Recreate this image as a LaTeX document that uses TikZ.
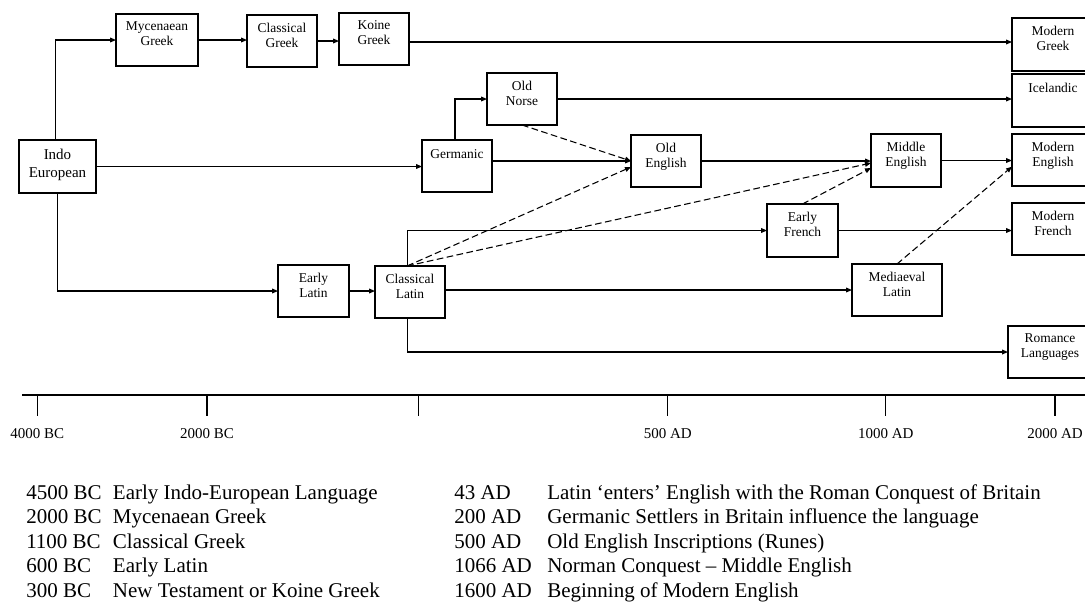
\documentclass[tikz,border=0pt]{standalone}
\usepackage{fontspec}
\setmainfont{Liberation Serif}
\usetikzlibrary{arrows.meta,calc}

\tikzset{
  box/.style={draw, line width=0.9pt, inner sep=0pt, outer sep=0pt},
  boxtext/.style={inner sep=0pt, align=center, font=\fontsize{10.1}{11.25}\selectfont, execute at begin node=\strut},
  bigtext/.style={boxtext, font=\fontsize{11.25}{13}\selectfont},
  link/.style={line width=0.8pt, -{Triangle[length=4.5pt,width=3.6pt]}},
  borrow/.style={link, dash pattern=on 5pt off 2.6pt},
  axisline/.style={line width=1.1pt},
  tickline/.style={line width=0.8pt},
  ticklabel/.style={inner sep=0pt, anchor=base, font=\fontsize{11.25}{13}\selectfont},
  legend/.style={inner sep=0pt, anchor=base west, font=\fontsize{15.75}{18}\selectfont},
}

% \langbox[text style]{name}{x1}{y1}{x2}{y2}{label}  (pixel corners, y downwards)
\newcommand\langbox[7][boxtext]{%
  \node[box, minimum width={(#5-#3)*0.75pt}, minimum height={(#6-#4)*0.75pt}] (#2) at ({(#3+#5)/2},{(#4+#6)/2}) {};
  \node[#1, anchor=north] (#2-text) at ($(#2.north)+(0,7.5)$) {#7};
}

\begin{document}
\begin{tikzpicture}[x=0.75pt,y=-0.75pt]
\useasboundingbox (0,0) rectangle (1085,601);

% language boxes
\node[box, minimum width={77*0.75pt}, minimum height={53*0.75pt}] (indo) at (57.5,166.5) {};
\node[bigtext, anchor=north] (indo-text) at ($(indo.north)+(0,9)$) {Indo\\European};
\langbox{myc}{116}{14}{198}{66}{Mycenaean\\Greek}
\langbox{cgreek}{247}{15}{317}{67}{Classical\\Greek}
\langbox{koine}{339}{13}{409}{65}{Koine\\Greek}
\langbox{mgreek}{1012}{18}{1094}{71}{Modern\\Greek}
\langbox{norse}{487}{73}{557}{125}{Old\\Norse}
\langbox{iceland}{1012}{74}{1094}{127}{Icelandic}
\langbox{germ}{422}{140}{492}{192}{Germanic}
\langbox{oldeng}{631}{135}{701}{187}{Old\\English}
\langbox{mideng}{871}{134}{941}{187}{Middle\\English}
\langbox{modeng}{1012}{134}{1094}{186}{Modern\\English}
\langbox{efrench}{767}{204}{838}{257}{Early\\French}
\langbox{mfrench}{1012}{203}{1094}{255}{Modern\\French}
\langbox{elatin}{278}{265}{349}{317}{Early\\Latin}
\langbox{clatin}{375}{266}{445}{318}{Classical\\Latin}
\langbox{medlat}{852}{264}{942}{316}{Mediaeval\\Latin}
\langbox{romance}{1008}{326}{1092}{378}{Romance\\Languages}

% lines of descent
\coordinate (greekline) at (0,42);
\draw[link] ([xshift=-1.5pt]indo.north) |- (myc.west);
\draw[link] (myc.east) -- (myc.east -| cgreek.west);
\draw[link] (cgreek.east) -- (cgreek.east -| koine.west);
\draw[link] (koine.east |- greekline) -- (mgreek.west |- greekline);
\draw[link] (indo.east) -- (indo.east -| germ.west);
\draw[link] ([xshift=-1.5pt]germ.north) |- (norse.west);
\draw[link] (germ.east |- oldeng.west) -- (oldeng.west);
\draw[link] (norse.east) -- (norse.east -| iceland.west);
\draw[link] (oldeng.east) -- (oldeng.east -| mideng.west);
\draw[link] (mideng.east) -- (mideng.east -| modeng.west);
\draw[link] (indo.south) |- (elatin.west);
\draw[link] (elatin.east) -- (elatin.east -| clatin.west);
\draw[link] ([xshift=-2.2pt]clatin.north) |- (efrench.west);
\draw[link] (efrench.east) -- (efrench.east -| mfrench.west);
\draw[link] (clatin.east |- medlat.west) -- (medlat.west);
\draw[link] ([xshift=-2.2pt]clatin.south) |- (romance.west);

% borrowings
\draw[borrow] (norse.south) -- (oldeng.west);
\draw[borrow] ([xshift=-2.2pt]clatin.north) -- ([yshift=-4.5pt]oldeng.west);
\draw[borrow] ([xshift=-2.2pt]clatin.north) -- ([yshift=-1.9pt]mideng.west);
\draw[borrow] (efrench.north) -- ([yshift=-5.6pt]mideng.west);
\draw[borrow] (medlat.north) -- ([yshift=-5pt]modeng.west);

% time axis
\coordinate (axl) at (22,395);
\coordinate (axr) at (1085,395);
\draw[axisline] (axl) -- (axr);
\foreach \x in {37.3,207,418.3,667.7,885.7,1055} \draw[tickline] (\x,395) -- (\x,416);
\node[ticklabel] (tk1) at (37.3,438) {4000 BC};
\node[ticklabel] (tk2) at (207,438) {2000 BC};
\node[ticklabel] (tk4) at (667.7,438) {500 AD};
\node[ticklabel] (tk5) at (885.7,438) {1000 AD};
\node[ticklabel] (tk6) at (1055,438) {2000 AD};

% key dates
\foreach \y/\d/\t [count=\i] in {499/4500 BC/Early Indo-European Language,
                        523.5/2000 BC/Mycenaean Greek,
                        548/1100 BC/Classical Greek,
                        572.5/600 BC/Early Latin,
                        597/300 BC/New Testament or Koine Greek} {
  \node[legend] (ld\i) at (26,\y) {\d};
  \node[legend] (lt\i) at (112.7,\y) {\t};
}
\foreach \y/\d/\t [count=\i] in {499/43 AD/Latin ‘enters’ English with the Roman Conquest of Britain,
                        523.5/200 AD/Germanic Settlers in Britain influence the language,
                        548/500 AD/Old English Inscriptions (Runes),
                        572.5/1066 AD/Norman Conquest – Middle English,
                        597/1600 AD/Beginning of Modern English} {
  \node[legend] (rd\i) at (454,\y) {\d};
  \node[legend] (rt\i) at (547,\y) {\t};
}
\end{tikzpicture}
\end{document}
